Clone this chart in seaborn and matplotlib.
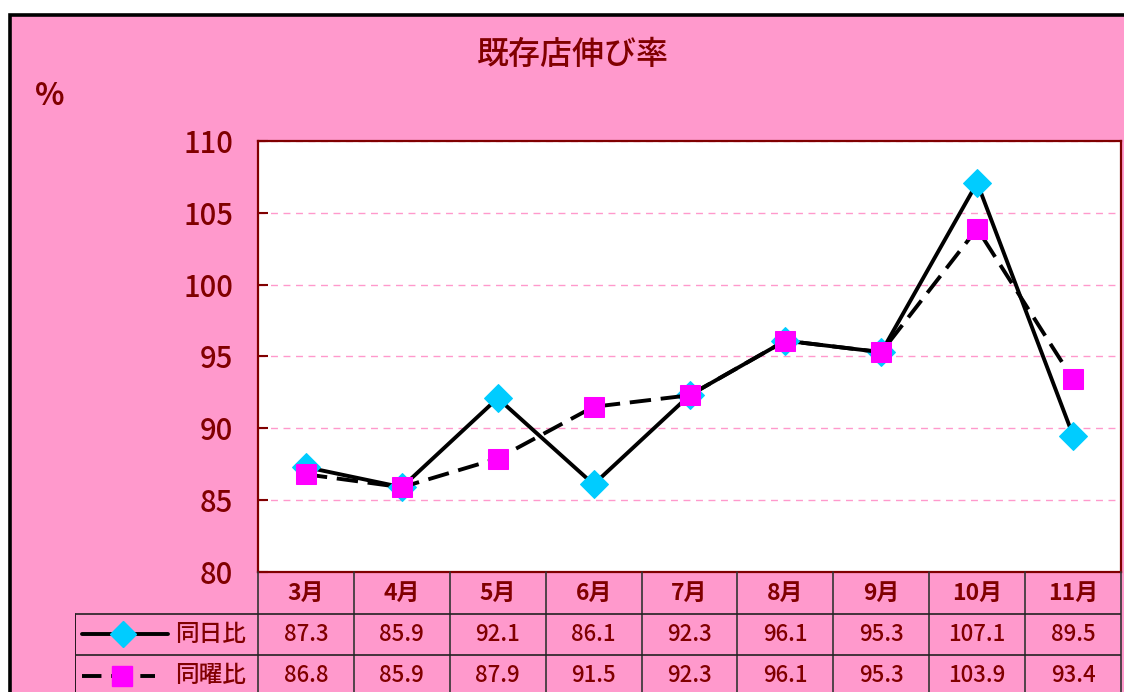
import numpy as np
import pandas as pd
import matplotlib
matplotlib.use("Agg")
import matplotlib.pyplot as plt
from matplotlib.patches import Rectangle
import seaborn as sns

# data
months = ["3月", "4月", "5月", "6月", "7月", "8月", "9月", "10月", "11月"]
same_day = [87.3, 85.9, 92.1, 86.1, 92.3, 96.1, 95.3, 107.1, 89.5]
same_weekday = [86.8, 85.9, 87.9, 91.5, 92.3, 96.1, 95.3, 103.9, 93.4]
series_names = ["同日比", "同曜比"]
y_ticks = [80, 85, 90, 95, 100, 105, 110]

sns.set_theme(style="white")
plt.rcParams["font.family"] = ["Noto Sans CJK JP", "DejaVu Sans"]
plt.rcParams["font.weight"] = "medium"

DARK_RED = "#800000"
PINK = "#FF99CC"
W, H = 1124, 692

df = pd.DataFrame({"month": months, series_names[0]: same_day, series_names[1]: same_weekday})

fig = plt.figure(figsize=(W / 100, H / 100), dpi=100)
fig.patch.set_facecolor("white")

# pink chart area with black frame (right/bottom cut off)
fig.patches.append(Rectangle((9.5 / W, -0.1), 1.2, 1.1 - 14.5 / H, transform=fig.transFigure,
                             facecolor=PINK, edgecolor="black", linewidth=2.6, zorder=-10))

ax = fig.add_axes([258 / W, 1 - 572 / H, (1121 - 258) / W, (572 - 141) / H])
ax.set_facecolor("white")

sns.lineplot(data=df, x="month", y=series_names[0], ax=ax, color="black", linewidth=2.8,
             marker="D", markersize=14, markerfacecolor="#00CCFF", markeredgecolor="#00CCFF")
sns.lineplot(data=df, x="month", y=series_names[1], ax=ax, color="black", linewidth=2.8,
             linestyle=(0, (5.5, 2.5)), marker="s", markersize=14,
             markerfacecolor="#FF00FF", markeredgecolor="#FF00FF")

ax.set_xlim(-0.5, len(months) - 0.5)
ax.set_ylim(80, 110)
ax.set_yticks(y_ticks)
ax.set_xticks([])
ax.set_xlabel("")
ax.set_ylabel("")
ax.grid(axis="y", color=PINK, linestyle=(0, (5, 4)), linewidth=1)
ax.tick_params(axis="y", direction="in", length=7, width=1.5, color=DARK_RED,
               labelcolor=DARK_RED, labelsize=21, pad=18, left=True)
for s in ax.spines.values():
    s.set_color(DARK_RED)
    s.set_linewidth(1.6)

# data table below the plot
px = (1121 - 258) / len(months)  # pixels per category


def to_x(p):
    return -0.5 - (258 - p) / px


left_x = to_x(75)
n_rows = 120 / 41.5
tax = fig.add_axes([75 / W, 0, (1121 - 75) / W, 120 / H])
tax.set_xlim(left_x, len(months) - 0.5)
tax.set_ylim(n_rows, 0)
tax.axis("off")

for k in range(len(months) + 1):
    tax.plot([k - 0.5, k - 0.5], [0, n_rows], color="#333333", lw=1.2, clip_on=False)
tax.plot([left_x + 0.005, left_x + 0.005], [1, n_rows], color="black", lw=1.2)
for r in [1, 2]:
    tax.plot([left_x, len(months) - 0.5], [r, r], color="#222222", lw=1.2)

for i, m in enumerate(months):
    tax.text(i, 0.52, m, ha="center", va="center", color=DARK_RED, fontsize=16.5, fontweight="bold")
    tax.text(i, 1.5, f"{same_day[i]:.1f}", ha="center", va="center", color=DARK_RED, fontsize=16)
    tax.text(i, 2.5, f"{same_weekday[i]:.1f}", ha="center", va="center", color=DARK_RED, fontsize=16)

tax.plot([to_x(82), to_x(168)], [1.5, 1.5], color="black", lw=2.8)
tax.plot([to_x(123)], [1.5], marker="D", markersize=13, color="#00CCFF")
tax.plot([to_x(82), to_x(155)], [2.5, 2.5], color="black", lw=2.8, linestyle=(0, (5, 2.5)))
tax.plot([to_x(122)], [2.5], marker="s", markersize=14, color="#FF00FF")
tax.text(to_x(175), 1.5, series_names[0], ha="left", va="center", color=DARK_RED, fontsize=17)
tax.text(to_x(175), 2.5, series_names[1], ha="left", va="center", color=DARK_RED, fontsize=17)

fig.text(573 / W, 1 - 55 / H, "既存店伸び率", ha="center", va="center", color=DARK_RED, fontsize=23)
fig.text(50 / W, 1 - 96 / H, "%", ha="center", va="center", color=DARK_RED, fontsize=22,
         fontweight="bold")

fig.savefig("out.png", dpi=100)
